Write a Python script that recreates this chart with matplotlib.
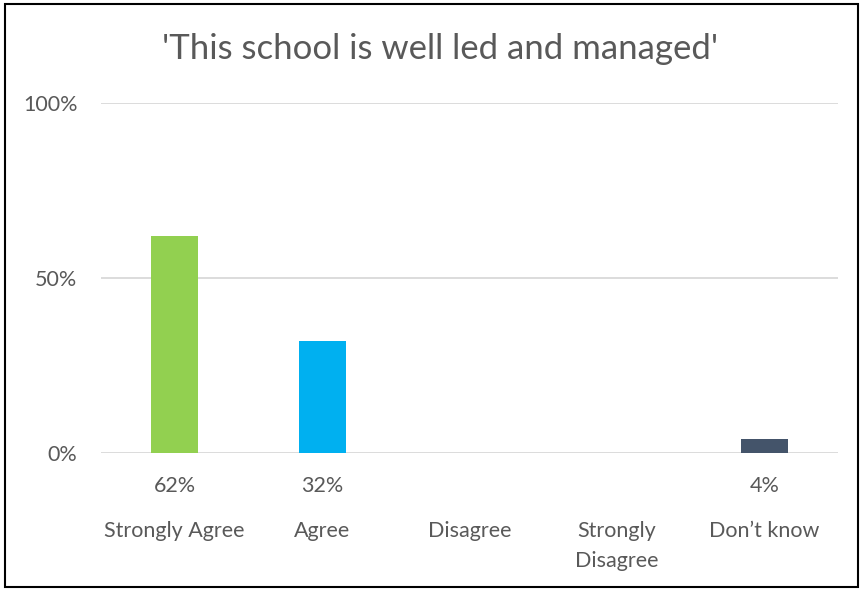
import matplotlib
matplotlib.use("Agg")
import matplotlib.pyplot as plt
from matplotlib.patches import Rectangle
from matplotlib.transforms import blended_transform_factory

categories = ["Strongly Agree", "Agree", "Disagree", "Strongly\nDisagree", "Don\u2019t know"]
values = [62, 32, 0, 0, 4]
colors = ["#92D050", "#00B0F0", "#A5A5A5", "#FFC000", "#44546A"]
yticks = [0, 50, 100]
ytick_labels = ["0%", "50%", "100%"]
title = "'This school is well led and managed'"

plt.rcParams['font.family'] = ['Lato', 'DejaVu Sans']
W, H = 861, 589
FS = 15.5
TXT = "#595959"
fig = plt.figure(figsize=(W/100, H/100), dpi=100)
ax = fig.add_axes([101/W, 1-453/H, (838-101)/W, (453-103)/H])

x = list(range(len(categories)))
for xi, v, c in zip(x, values, colors):
    if v > 0:
        ax.bar(xi, v, width=0.32, color=c, zorder=3)

ax.set_xlim(-0.5, len(categories)-0.5)
ax.set_ylim(0, 100)
ax.set_yticks(yticks)
ax.set_yticklabels(ytick_labels, fontsize=FS, color=TXT)
ax.grid(axis='y', color="#D9D9D9", linewidth=1.3, zorder=0)
ax.tick_params(axis='y', length=0, pad=17)
ax.tick_params(axis='x', length=0)
for s in ax.spines.values():
    s.set_visible(False)
ax.set_xticks([])

trans = blended_transform_factory(ax.transData, fig.transFigure)
for xi, v in zip(x, values):
    if v > 0:
        ax.text(xi, 1-486/H, f"{v}%", transform=trans, ha='center', va='center',
                fontsize=FS, color=TXT)
for xi, cat in zip(x, categories):
    ax.text(xi, 1-521/H, cat, transform=trans, ha='center', va='top',
            fontsize=FS, color=TXT, linespacing=1.6)

fig.text(440/W, 1-49/H, title, ha='center', va='center', fontsize=25, color=TXT)

fig.patches.append(Rectangle((5/W, 2/H), (858-5)/W, (585-2)/H, transform=fig.transFigure,
                             fill=False, edgecolor="black", linewidth=1.5))

fig.savefig("out.png", dpi=100, facecolor="white")
